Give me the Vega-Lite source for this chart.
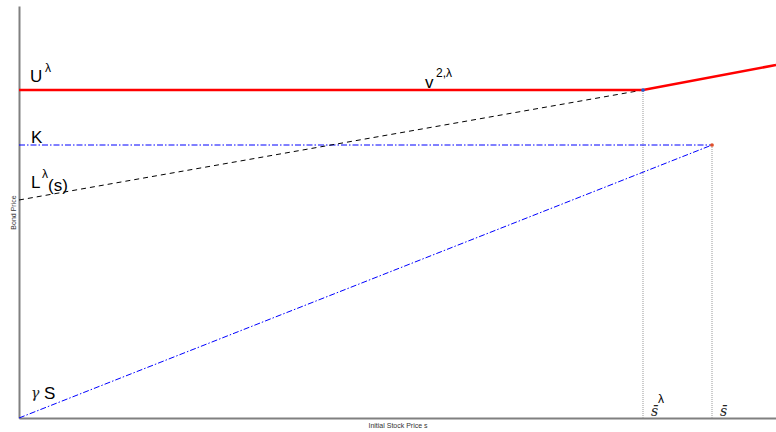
{
  "$schema": "https://vega.github.io/schema/vega-lite/v6.json",
  "width": 757,
  "height": 412,
  "autosize": "none",
  "padding": {"left": 19, "top": 6, "right": 0, "bottom": 14},
  "config": {"view": {"stroke": null}, "font": "Liberation Sans"},
  "datasets": {
    "lines": [
      {"series": "U", "s": 0, "p": 328, "o": 1},
      {"series": "U", "s": 624, "p": 328, "o": 2},
      {"series": "U", "s": 757, "p": 353, "o": 3},
      {"series": "L", "s": 0, "p": 218, "o": 1},
      {"series": "L", "s": 624, "p": 328, "o": 2},
      {"series": "K", "s": 0, "p": 273, "o": 1},
      {"series": "K", "s": 693, "p": 273, "o": 2},
      {"series": "gS", "s": 0, "p": 0, "o": 1},
      {"series": "gS", "s": 693, "p": 273, "o": 2},
      {"series": "sbarl", "s": 624, "p": 0, "o": 1},
      {"series": "sbarl", "s": 624, "p": 328, "o": 2},
      {"series": "sbar", "s": 693, "p": 0, "o": 1},
      {"series": "sbar", "s": 693, "p": 273, "o": 2}
    ],
    "pts": [
      {"name": "sbarl", "s": 624, "p": 328},
      {"name": "sbar", "s": 693, "p": 273}
    ],
    "mainLabels": [
      {"t": "U", "s": 11, "p": 336},
      {"t": "v", "s": 406, "p": 330},
      {"t": "K", "s": 12, "p": 275},
      {"t": "L", "s": 12, "p": 230},
      {"t": "(s)", "s": 29, "p": 227},
      {"t": "S", "s": 25, "p": 19}
    ],
    "supLabels": [
      {"t": "λ", "s": 26, "p": 346},
      {"t": "2,λ", "s": 417, "p": 341},
      {"t": "λ", "s": 23, "p": 240},
      {"t": "λ", "s": 639, "p": 15}
    ],
    "mathLabels": [
      {"t": "γ", "s": 12, "p": 20},
      {"t": "s̄", "s": 632, "p": 2},
      {"t": "s̄", "s": 701, "p": 2}
    ]
  },
  "layer": [
    {
      "data": {"name": "lines"},
      "transform": [{"filter": "datum.series === 'sbarl' || datum.series === 'sbar'"}],
      "mark": {"type": "line", "color": "#999999", "strokeWidth": 1, "strokeDash": [1, 1]},
      "encoding": {
        "x": {"field": "s", "type": "quantitative", "scale": {"domain": [0, 757], "nice": false, "zero": false},
          "axis": {"labels": false, "ticks": false, "grid": false, "domainColor": "#808080", "domainWidth": 2, "title": "Initial Stock Price s", "titleFontSize": 7, "titleFontWeight": "normal", "titleColor": "#333333", "titlePadding": 3}},
        "y": {"field": "p", "type": "quantitative", "scale": {"domain": [0, 412], "nice": false, "zero": false},
          "axis": {"labels": false, "ticks": false, "grid": false, "domainColor": "#808080", "domainWidth": 2, "title": "Bond Price", "titleFontSize": 7, "titleFontWeight": "normal", "titleColor": "#333333", "titlePadding": 3}},
        "detail": {"field": "series"},
        "order": {"field": "o"}
      }
    },
    {
      "data": {"name": "lines"},
      "transform": [{"filter": "datum.series === 'K' || datum.series === 'gS'"}],
      "mark": {"type": "line", "color": "#0000ff", "strokeWidth": 1, "strokeDash": [6, 2, 1.5, 2]},
      "encoding": {
        "x": {"field": "s", "type": "quantitative", "title": "Initial Stock Price s"},
        "y": {"field": "p", "type": "quantitative", "title": "Bond Price"},
        "detail": {"field": "series"},
        "order": {"field": "o"}
      }
    },
    {
      "data": {"name": "lines"},
      "transform": [{"filter": "datum.series === 'L'"}],
      "mark": {"type": "line", "color": "#000000", "strokeWidth": 1, "strokeDash": [5, 4]},
      "encoding": {
        "x": {"field": "s", "type": "quantitative", "title": "Initial Stock Price s"},
        "y": {"field": "p", "type": "quantitative", "title": "Bond Price"},
        "order": {"field": "o"}
      }
    },
    {
      "data": {"name": "lines"},
      "transform": [{"filter": "datum.series === 'U'"}],
      "mark": {"type": "line", "color": "#ff0000", "strokeWidth": 2.5},
      "encoding": {
        "x": {"field": "s", "type": "quantitative", "title": "Initial Stock Price s"},
        "y": {"field": "p", "type": "quantitative", "title": "Bond Price"},
        "order": {"field": "o"}
      }
    },
    {
      "data": {"name": "pts"},
      "mark": {"type": "circle", "size": 14, "opacity": 1},
      "encoding": {
        "x": {"field": "s", "type": "quantitative", "title": "Initial Stock Price s"},
        "y": {"field": "p", "type": "quantitative", "title": "Bond Price"},
        "color": {"field": "name", "type": "nominal", "scale": {"domain": ["sbarl", "sbar"], "range": ["#1f5fd0", "#e0502a"]}, "legend": null}
      }
    },
    {
      "data": {"name": "mainLabels"},
      "mark": {"type": "text", "align": "left", "baseline": "alphabetic", "fontSize": 17, "color": "#000000", "font": "Liberation Sans"},
      "encoding": {
        "x": {"field": "s", "type": "quantitative", "title": "Initial Stock Price s"},
        "y": {"field": "p", "type": "quantitative", "title": "Bond Price"},
        "text": {"field": "t"}
      }
    },
    {
      "data": {"name": "supLabels"},
      "mark": {"type": "text", "align": "left", "baseline": "alphabetic", "fontSize": 12, "color": "#000000", "font": "Liberation Sans"},
      "encoding": {
        "x": {"field": "s", "type": "quantitative", "title": "Initial Stock Price s"},
        "y": {"field": "p", "type": "quantitative", "title": "Bond Price"},
        "text": {"field": "t"}
      }
    },
    {
      "data": {"name": "mathLabels"},
      "mark": {"type": "text", "align": "left", "baseline": "alphabetic", "fontSize": 14, "fontStyle": "italic", "color": "#222222", "font": "DejaVu Serif"},
      "encoding": {
        "x": {"field": "s", "type": "quantitative", "title": "Initial Stock Price s"},
        "y": {"field": "p", "type": "quantitative", "title": "Bond Price"},
        "text": {"field": "t"}
      }
    }
  ]
}
